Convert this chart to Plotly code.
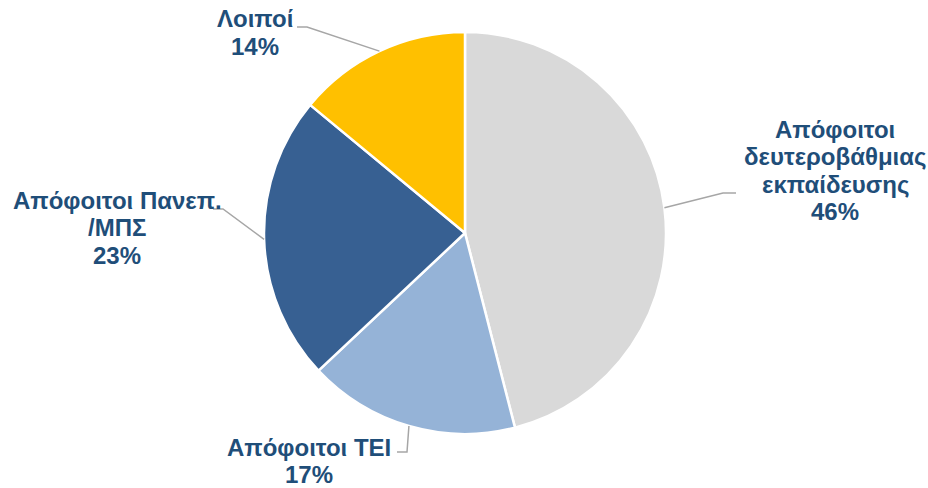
import math
import plotly.graph_objects as go

# Data
categories = [["Απόφοιτοι", "δευτεροβάθμιας", "εκπαίδευσης"],
              ["Απόφοιτοι ΤΕΙ"],
              ["Απόφοιτοι Πανεπ.", "/ΜΠΣ"],
              ["Λοιποί"]]
values = [46, 17, 23, 14]
colors = ["#D9D9D9", "#95B3D7", "#376092", "#FFC000"]

W, H = 928, 488
CX, CY, R = 465, 233, 201  # pie centre/radius in px (layout)
LINE_GAP = 27.5
FONT_SIZE = 24

def px(x):
    return x / W

def py(y):
    return 1 - y / H

fig = go.Figure()
fig.add_trace(go.Pie(
    values=values,
    labels=[" ".join(c) for c in categories],
    marker=dict(colors=colors, line=dict(color="white", width=2.5)),
    sort=False, direction="clockwise", rotation=0,
    textinfo="none", hoverinfo="label+percent",
    domain=dict(x=[px(CX - R), px(CX + R)], y=[py(CY + R), py(CY - R)]),
    showlegend=False,
))

# label layout: (label centre x, first line centre y, elbow x, elbow y, end x)
label_layout = [
    (835, 129, 723, 193, 736),
    (309, 447, 407, 452, 397),
    (117, 200, 223, 209, 213),
    (255, 19, 307, 27, 297),
]

total = sum(values)
cum = 0
shapes = []
annotations = []
for cat, v, lay in zip(categories, values, label_layout):
    mid = (cum + v / 2) / total * 2 * math.pi
    cum += v
    sx = CX + R * math.sin(mid)
    sy = CY - R * math.cos(mid)
    lx, ly, ex, ey, endx = lay
    path = f"M {px(sx)},{py(sy)} L {px(ex)},{py(ey)} L {px(endx)},{py(ey)}"
    shapes.append(dict(type="path", path=path, xref="paper", yref="paper",
                       line=dict(color="#A6A6A6", width=1.5)))
    pct = round(v / total * 100)
    lines = list(cat) + [f"{pct}%"]
    for i, t in enumerate(lines):
        annotations.append(dict(
            x=px(lx), y=py(ly + i * LINE_GAP), xref="paper", yref="paper",
            xanchor="center", yanchor="middle", showarrow=False,
            text=f"<b>{t}</b>",
            font=dict(family="Liberation Sans, Arial", size=FONT_SIZE, color="#1F4E79"),
        ))

fig.update_layout(
    width=W, height=H,
    margin=dict(l=0, r=0, t=0, b=0),
    paper_bgcolor="white", plot_bgcolor="white",
    shapes=shapes, annotations=annotations,
)
fig.write_html("out.html", config={"displayModeBar": False},
               post_script="document.body.style.margin='0';")
